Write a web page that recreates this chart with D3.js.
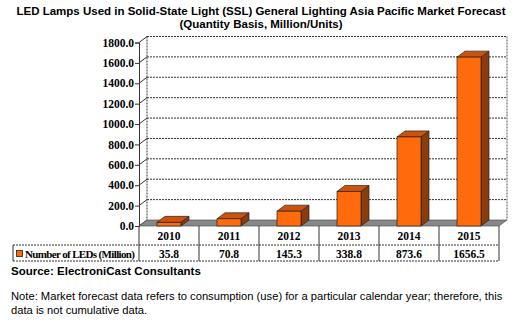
<!DOCTYPE html>
<html><head><meta charset="utf-8">
<script src="https://cdn.jsdelivr.net/npm/d3@7"></script>
<style>body{margin:0;background:#fff;}svg{display:block;}</style>
</head><body>
<svg id="c" width="523" height="332"></svg>
<script>
const years = ["2010","2011","2012","2013","2014","2015"];
const values = [35.8, 70.8, 145.3, 338.8, 873.6, 1656.5];
const valueLabels = ["35.8","70.8","145.3","338.8","873.6","1656.5"];
const yTicks = [0,200,400,600,800,1000,1200,1400,1600,1800];
const seriesName = "Number of LEDs (Million)";
const titleLines = ["LED Lamps Used in Solid-State Light (SSL) General Lighting Asia Pacific Market Forecast","(Quantity Basis, Million/Units)"];
const source = "Source: ElectroniCast Consultants";
const noteLines = ["Note: Market forecast data refers to consumption (use) for a particular calendar year; therefore, this","data is not cumulative data."];

const svg = d3.select("#c");
const dx = 8, dy = 6;
const x = d3.scaleBand().domain(years).range([139, 499]);
const y = d3.scaleLinear().domain([0, 1800]).range([226, 42.5]);

// title
svg.append("g").selectAll("text").data(titleLines).join("text")
  .attr("x", 261).attr("y", (d,i)=>15+i*13).attr("text-anchor","middle")
  .attr("font-family","Liberation Sans, Arial, sans-serif").attr("font-weight","bold").attr("font-size","11.5px")
  .text(d=>d);

const grid = svg.append("g");
grid.append("rect").attr("x",139+dx).attr("y",y(1800)-dy).attr("width",360).attr("height",y(0)-y(1800)).attr("fill","#fff");
grid.selectAll("line.g").data(yTicks.filter(t=>t>0)).join("line")
  .attr("x1",139+dx).attr("x2",499+dx).attr("y1",d=>y(d)-dy).attr("y2",d=>y(d)-dy)
  .attr("stroke","#333").attr("stroke-width",1).attr("stroke-dasharray","2,1");
grid.selectAll("line.s").data(yTicks).join("line")
  .attr("x1",139).attr("x2",139+dx).attr("y1",d=>y(d)).attr("y2",d=>y(d)-dy)
  .attr("stroke","#333").attr("stroke-width",1);
grid.append("line").attr("x1",139+dx).attr("x2",139+dx).attr("y1",y(1800)-dy).attr("y2",y(0)-dy).attr("stroke","#333").attr("stroke-dasharray","2,1");
grid.append("line").attr("x1",499+dx).attr("x2",499+dx).attr("y1",y(1800)-dy).attr("y2",y(0)-dy).attr("stroke","#555").attr("stroke-dasharray","2,1");

// floor
svg.append("path").attr("d",`M139,${y(0)} L${139+dx},${y(0)-dy} L${499+dx},${y(0)-dy} L499,${y(0)} Z`)
  .attr("fill","#888").attr("stroke","#444").attr("stroke-width",0.6);

// y axis
const yAxis = d3.axisLeft(y).tickValues(yTicks).tickFormat(d3.format(".1f")).tickSize(4);
const ya = svg.append("g").attr("transform","translate(139,0)").call(yAxis);
ya.select(".domain").attr("stroke","#333");
ya.selectAll(".tick line").attr("stroke","#333");
ya.selectAll("text").attr("font-family","Liberation Serif, Times New Roman, serif").attr("font-weight","bold").attr("font-size","11.5px").attr("fill","#000").attr("x",-5);

// bars
const bw = 24;
const bars = svg.append("g").selectAll("g").data(years.map((yr,i)=>({yr,v:values[i]}))).join("g");
bars.append("path").attr("d",d=>{const x0=x(d.yr)+x.bandwidth()/2-bw/2, x1=x0+bw, yt=y(d.v), yb=y(0);
  return `M${x1},${yb} L${x1+dx},${yb-dy} L${x1+dx},${yt-dy} L${x1},${yt} Z`;})
  .attr("fill","#8a3c0c").attr("stroke","#222").attr("stroke-width",0.7);
bars.append("path").attr("d",d=>{const x0=x(d.yr)+x.bandwidth()/2-bw/2, x1=x0+bw, yt=y(d.v);
  return `M${x0},${yt} L${x0+dx},${yt-dy} L${x1+dx},${yt-dy} L${x1},${yt} Z`;})
  .attr("fill","#cc520e").attr("stroke","#222").attr("stroke-width",0.7);
bars.append("rect").attr("x",d=>x(d.yr)+x.bandwidth()/2-bw/2).attr("y",d=>y(d.v))
  .attr("width",bw).attr("height",d=>y(0)-y(d.v))
  .attr("fill","#ff6a0c").attr("stroke","#222").attr("stroke-width",0.7);

// data table
const tb = svg.append("g");
const rowTop = 226, rowMid = 245, rowBot = 261;
tb.selectAll("line.v").data(years.concat(["end"])).join("line")
  .attr("x1",(d,i)=>139+i*x.step()).attr("x2",(d,i)=>139+i*x.step())
  .attr("y1",rowTop).attr("y2",rowBot).attr("stroke","#333");
tb.append("line").attr("x1",13).attr("x2",499).attr("y1",rowMid).attr("y2",rowMid).attr("stroke","#333").attr("stroke-dasharray","2,1");
tb.append("line").attr("x1",13).attr("x2",499).attr("y1",rowBot).attr("y2",rowBot).attr("stroke","#333").attr("stroke-dasharray","2,1");
tb.append("line").attr("x1",13).attr("x2",13).attr("y1",rowMid).attr("y2",rowBot).attr("stroke","#333");
tb.selectAll("text.yr").data(years).join("text")
  .attr("x",d=>x(d)+x.bandwidth()/2).attr("y",239.5).attr("text-anchor","middle")
  .attr("font-family","Liberation Serif, Times New Roman, serif").attr("font-weight","bold").attr("font-size","11.5px").text(d=>d);
tb.selectAll("text.val").data(valueLabels).join("text")
  .attr("x",(d,i)=>x(years[i])+x.bandwidth()/2).attr("y",257.5).attr("text-anchor","middle")
  .attr("font-family","Liberation Serif, Times New Roman, serif").attr("font-weight","bold").attr("font-size","11.5px").text(d=>d);
tb.append("rect").attr("x",16.5).attr("y",250.5).attr("width",6).attr("height",6).attr("fill","#ff6a0c").attr("stroke","#222").attr("stroke-width",0.8);
tb.append("text").attr("x",25).attr("y",257.5)
  .attr("font-family","Liberation Serif, Times New Roman, serif").attr("font-weight","bold").attr("font-size","11px").attr("textLength",110).text(seriesName);

// source and note
svg.append("text").attr("x",11).attr("y",275).attr("font-family","Liberation Sans, Arial, sans-serif").attr("font-weight","bold").attr("font-size","11.5px").text(source);
svg.append("g").selectAll("text").data(noteLines).join("text")
  .attr("x",11).attr("y",(d,i)=>300+i*13.5).attr("font-family","Liberation Sans, Arial, sans-serif").attr("font-size","11.2px").text(d=>d);
</script>
</body></html>
